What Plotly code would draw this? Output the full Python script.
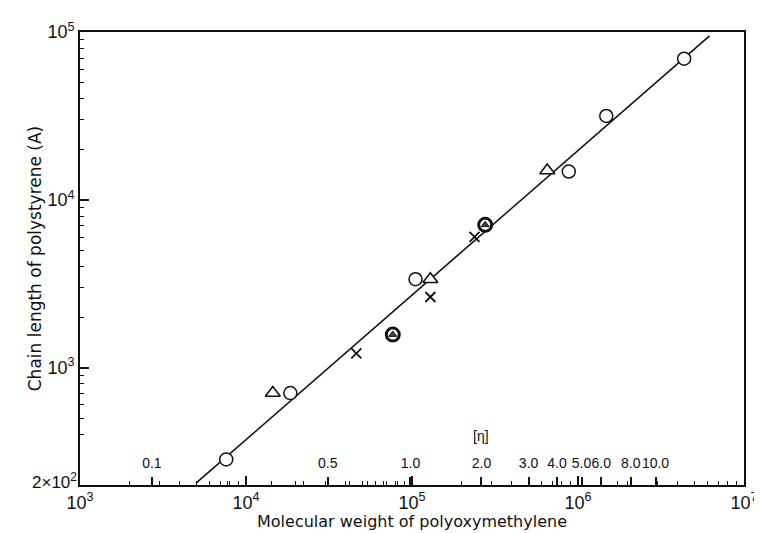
import numpy as np
import plotly.graph_objects as go

# ---- data ----
circle_mw = [7.6e3, 1.85e4, 1.05e5, 8.8e5, 1.48e6, 4.36e6]
circle_len = [284, 706, 3365, 14750, 31600, 69300]

triangle_mw = [1.45e4, 1.29e5, 6.53e5]
triangle_len = [706, 3365, 14960]

cross_mw = [4.62e4, 1.29e5, 2.38e5]
cross_len = [1216, 2637, 6025]

both_mw = [7.66e4, 2.76e5]
both_len = [1574, 7095]

fit_mw = [5.0e3, 6.2e6]
fit_len = [205, 94700]

# secondary [eta] scale (intrinsic viscosity) and its molecular-weight positions
eta_labels = ["0.1", "0.5", "1.0", "2.0", "3.0", "4.0", "5.0", "6.0", "8.0", "10.0"]
eta_values = [0.1, 0.5, 1.0, 2.0, 3.0, 4.0, 5.0, 6.0, 8.0, 10.0]
eta_mw = [2.71e3, 3.11e4, 9.79e4, 2.62e5, 5.04e5, 7.48e5, 1.05e6, 1.38e6, 2.08e6, 2.93e6]
eta_minor = [0.2, 0.3, 0.4, 0.6, 0.7, 0.8, 0.9, 7.0, 20.0]

x_ticks = [1e3, 1e4, 1e5, 1e6, 1e7]
x_ticktext = ["10<sup>3</sup>", "10<sup>4</sup>", "10<sup>5</sup>", "10<sup>6</sup>", "10<sup>7</sup>"]
y_ticks = [1e3, 1e4, 1e5]
y_ticktext = ["10<sup>3</sup>", "10<sup>4</sup>", "10<sup>5</sup>"]
y_min_value = 200
y_min_label = "2\u00d710<sup>2</sup>"

# minor tick positions for log axes
x_minor = [m * 10 ** e for e in range(3, 7) for m in range(2, 10)]
y_minor = [v for v in (m * 10 ** e for e in range(2, 5) for m in range(2, 10)) if 200 < v < 1e5]
eta_minor_mw = list(10 ** np.interp(np.log10(eta_minor), np.log10(eta_values), np.log10(eta_mw)))

FONT = "Liberation Sans"
TFONT = "DejaVu Sans"
BLACK = "#111111"

fig = go.Figure()

fig.add_trace(go.Scatter(x=fit_mw, y=fit_len, mode="lines",
                         line=dict(color=BLACK, width=1.6), showlegend=False, hoverinfo="skip"))

fig.add_trace(go.Scatter(x=circle_mw, y=circle_len, mode="markers", showlegend=False,
                         marker=dict(symbol="circle", size=13, color="white",
                                     line=dict(color=BLACK, width=1.5))))
fig.add_trace(go.Scatter(x=triangle_mw, y=triangle_len, mode="markers", showlegend=False,
                         marker=dict(symbol="triangle-up", size=13, color="white",
                                     line=dict(color=BLACK, width=1.6))))
fig.add_trace(go.Scatter(x=cross_mw, y=cross_len, mode="markers", showlegend=False,
                         marker=dict(symbol="x-thin", size=10,
                                     line=dict(color=BLACK, width=1.8))))
fig.add_trace(go.Scatter(x=both_mw, y=both_len, mode="markers", showlegend=False,
                         marker=dict(symbol="circle", size=13, color="white",
                                     line=dict(color=BLACK, width=3))))
fig.add_trace(go.Scatter(x=both_mw, y=both_len, mode="markers", showlegend=False,
                         marker=dict(symbol="triangle-up", size=7, color="#444444",
                                     line=dict(color=BLACK, width=1))))

axis_common = dict(type="log", showgrid=False, zeroline=False)

fig.update_layout(
    width=762, height=533,
    margin=dict(l=72, r=15, t=19, b=56),
    plot_bgcolor="white", paper_bgcolor="white",
    font=dict(family=FONT, color=BLACK),
    xaxis=dict(**axis_common, range=[3, 7], tickmode="array", tickvals=x_ticks,
               ticktext=x_ticktext, ticks="inside", ticklen=9, tickwidth=1.5,
               tickcolor=BLACK, showline=True, linecolor=BLACK, linewidth=1.8,
               mirror=True, tickangle=0,
               tickfont=dict(family=FONT, size=18, color=BLACK),
               minor=dict(tickmode="array", tickvals=x_minor, ticks="inside",
                          ticklen=4, tickwidth=1, tickcolor=BLACK),
               title=dict(text="Molecular weight of polyoxymethylene",
                          font=dict(family=TFONT, size=16, color=BLACK), standoff=4)),
    xaxis2=dict(**axis_common, range=[3, 7], overlaying="x", anchor="y", side="bottom",
                tickmode="array", tickvals=eta_mw, ticktext=eta_labels, tickangle=0,
                tickfont=dict(family=FONT, size=14, color=BLACK),
                ticks="inside", ticklen=8, tickwidth=1.5, tickcolor=BLACK,
                ticklabelposition="inside", ticklabelstandoff=6, showline=False,
                minor=dict(tickmode="array", tickvals=eta_minor_mw, ticks="inside",
                           ticklen=4, tickwidth=1, tickcolor=BLACK)),
    yaxis=dict(**axis_common, range=[np.log10(y_min_value), 5], tickmode="array",
               tickvals=y_ticks, ticktext=y_ticktext, ticks="inside", ticklen=9,
               tickwidth=1.5, tickcolor=BLACK, showline=True, linecolor=BLACK,
               linewidth=1.8, mirror=True,
               tickfont=dict(family=FONT, size=18, color=BLACK),
               minor=dict(tickmode="array", tickvals=y_minor, ticks="inside",
                          ticklen=4, tickwidth=1, tickcolor=BLACK),
               title=dict(text="Chain length of polystyrene (A)",
                          font=dict(family=TFONT, size=17, color=BLACK), standoff=2)),
)

# dummy trace to activate the [eta] axis
fig.add_trace(go.Scatter(x=[eta_mw[0]], y=[y_min_value], xaxis="x2", mode="markers",
                         marker=dict(opacity=0), showlegend=False, hoverinfo="skip"))

# bottom y-axis label (lowest value of the y range)
fig.add_annotation(x=0, y=np.log10(y_min_value), xref="paper", yref="y",
                   text=y_min_label, showarrow=False, xanchor="right", yanchor="middle",
                   xshift=-1, yshift=4, font=dict(family=FONT, size=17, color=BLACK))

fig.add_annotation(x=np.log10(eta_mw[3]), y=0.087, xref="x", yref="paper",
                   text="[\u03b7]", showarrow=False,
                   font=dict(family=FONT, size=14, color=BLACK))

fig.write_html("out.html")
